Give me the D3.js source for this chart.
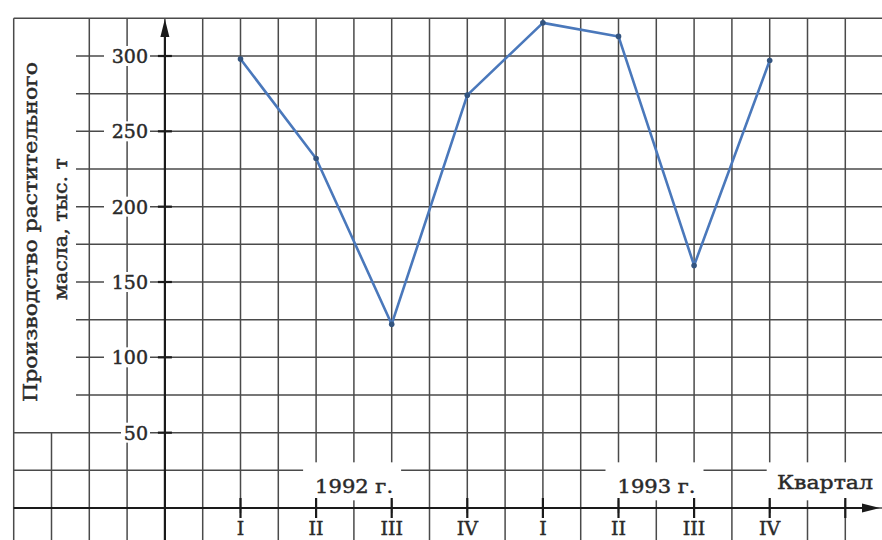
<!DOCTYPE html>
<html>
<head>
<meta charset="utf-8">
<script src="https://cdn.jsdelivr.net/npm/d3@7/dist/d3.min.js"></script>
<style>
  html, body { margin: 0; padding: 0; background: #fff; }
  svg { display: block; }
  text { font-family: "DejaVu Serif", "Liberation Serif", serif; fill: #2a2a2a; stroke: #2a2a2a; stroke-width: 0.45px; }
</style>
</head>
<body>
<svg id="chart" width="882" height="540"></svg>
<script>
// ---- data ----
const quarters = ["I", "II", "III", "IV", "I", "II", "III", "IV"];
const years = ["1992 г.", "1993 г."];
const yearStartIndex = [1, 5];
const production = [298, 232, 122, 274, 322, 313, 161, 297];
const yTicks = [50, 100, 150, 200, 250, 300];
const yTitle = ["Производство растительного", "масла, тыс. т"];
const xTitle = "Квартал";

// ---- scales ----
const W = 882, H = 540;
const x = d3.scaleLinear().domain([0, 7]).range([240.5, 769.7]);
const y = d3.scaleLinear().domain([0, 300]).range([508, 56]);
const svg = d3.select("#chart");

const gridColor = "#4a4a4a";
const axisColor = "#1a1a1a";
const titleBoxRight = 76;

// ---- grid ----
const grid = svg.append("g");
const vIdx = d3.range(-3, 9.01, 0.5);
grid.selectAll("line.v").data(vIdx).join("line")
  .attr("x1", d => x(d)).attr("x2", d => x(d))
  .attr("y1", d => d === -2.5 ? y(50) : y(325))
  .attr("y2", H)
  .attr("stroke", gridColor).attr("stroke-width", 1.5);
const hVals = d3.range(0, 326, 25);
grid.selectAll("line.h").data(hVals).join("line")
  .attr("x1", d => (d <= 50 || d === 325) ? x(-3) : titleBoxRight)
  .attr("x2", W)
  .attr("y1", d => y(d)).attr("y2", d => y(d))
  .attr("stroke", gridColor).attr("stroke-width", 1.5);

// ---- white label boxes ----
const boxes = svg.append("g");
boxes.selectAll("rect.yt").data(yTicks).join("rect")
  .attr("x", d => d >= 100 ? 104 : 121).attr("width", d => d >= 100 ? 46 : 29)
  .attr("y", d => y(d) - 10).attr("height", 20).attr("fill", "#fff");
boxes.selectAll("rect.yr").data(yearStartIndex).join("rect")
  .attr("x", d => x(d) - 13).attr("width", 98)
  .attr("y", y(25) - 8).attr("height", 38).attr("fill", "#fff");
boxes.append("rect").attr("x", x(7) - 3).attr("width", W - x(7) + 3)
  .attr("y", y(25) - 8).attr("height", 38).attr("fill", "#fff");
boxes.selectAll("rect.q").data(quarters).join("rect")
  .attr("x", (d, i) => x(i) - 12).attr("width", 24)
  .attr("y", y(0) + 5).attr("height", 40).attr("fill", "#fff");

// ---- axes ----
const axes = svg.append("g");
axes.append("line").attr("x1", x(-1)).attr("x2", x(-1))
  .attr("y1", H).attr("y2", 30).attr("stroke", axisColor).attr("stroke-width", 2.2);
axes.append("path")
  .attr("d", `M${x(-1)},19 L${x(-1) - 4.5},37 L${x(-1) + 4.5},37 Z`)
  .attr("fill", axisColor);
axes.append("line").attr("x1", x(-3)).attr("x2", 868)
  .attr("y1", y(0)).attr("y2", y(0)).attr("stroke", axisColor).attr("stroke-width", 2.2);
axes.append("path")
  .attr("d", `M880,${y(0)} L862,${y(0) - 4.5} L862,${y(0) + 4.5} Z`)
  .attr("fill", axisColor);
axes.selectAll("line.xt").data(d3.range(0, 9)).join("line")
  .attr("x1", d => x(d)).attr("x2", d => x(d))
  .attr("y1", y(0) - 10).attr("y2", y(0) + 10)
  .attr("stroke", axisColor).attr("stroke-width", 2.2);
axes.selectAll("line.yt").data(yTicks).join("line")
  .attr("x1", x(-1) - 7).attr("x2", x(-1) + 7)
  .attr("y1", d => y(d)).attr("y2", d => y(d))
  .attr("stroke", axisColor).attr("stroke-width", 2.2);

// ---- data line ----
const line = d3.line().x((d, i) => x(i)).y(d => y(d));
svg.append("path").datum(production)
  .attr("d", line).attr("fill", "none")
  .attr("stroke", "#4a78bb").attr("stroke-width", 2.6)
  .attr("stroke-linejoin", "round");
svg.selectAll("circle.pt").data(production).join("circle")
  .attr("cx", (d, i) => x(i)).attr("cy", d => y(d)).attr("r", 2.8)
  .attr("fill", "#33547f");

// ---- text ----
const fs = 19;
svg.selectAll("text.yl").data(yTicks).join("text")
  .attr("x", 148).attr("y", d => y(d) + 7)
  .attr("text-anchor", "end").attr("font-size", fs).text(d => d);
svg.selectAll("text.q").data(quarters).join("text")
  .attr("x", (d, i) => x(i)).attr("y", 535)
  .attr("text-anchor", "middle").attr("font-size", fs).text(d => d);
svg.selectAll("text.yr").data(years).join("text")
  .attr("x", (d, i) => x(yearStartIndex[i]) - 1).attr("y", 493)
  .attr("font-size", fs).attr("textLength", 78).attr("lengthAdjust", "spacingAndGlyphs")
  .text(d => d);
svg.append("text").attr("x", 777).attr("y", 489).attr("font-size", fs)
  .attr("textLength", 96).attr("lengthAdjust", "spacingAndGlyphs").text(xTitle);

const titlePos = [{cx: 37, cy: 232, len: 340}, {cx: 67, cy: 229, len: 142}];
svg.selectAll("text.yt").data(yTitle).join("text")
  .attr("transform", (d, i) => `translate(${titlePos[i].cx},${titlePos[i].cy}) rotate(-90)`)
  .attr("text-anchor", "middle").attr("font-size", 18)
  .attr("textLength", (d, i) => titlePos[i].len).attr("lengthAdjust", "spacingAndGlyphs")
  .text(d => d);
</script>
</body>
</html>
